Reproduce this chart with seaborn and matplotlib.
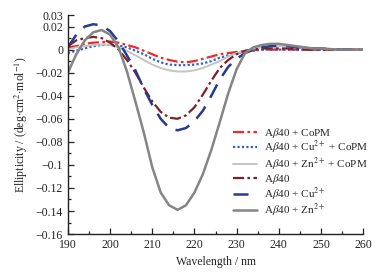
import numpy as np
import pandas as pd
import matplotlib
matplotlib.use("Agg")
import matplotlib.pyplot as plt
import seaborn as sns
from matplotlib.ticker import FixedLocator, FixedFormatter, MultipleLocator

wavelength = list(range(190, 262, 2))

copm = [0.002, 0.003, 0.005, 0.006, 0.0065, 0.007, 0.006, 0.004, 0.002, -0.001,
        -0.004, -0.007, -0.009, -0.0105, -0.011, -0.010, -0.008, -0.006, -0.004, -0.003,
        -0.002, -0.001, -0.0005, 0.0, 0.0, 0.0, 0.0, 0.0, 0.0, 0.0,
        0.0, 0.0, 0.0, 0.0, 0.0, 0.0]
cu_copm = [-0.003, -0.001, 0.001, 0.003, 0.004, 0.004, 0.0035, 0.002, -0.001, -0.004,
           -0.008, -0.011, -0.013, -0.0135, -0.0135, -0.013, -0.012, -0.010, -0.007, -0.005,
           -0.003, -0.002, -0.001, 0.0, 0.0, 0.0, 0.0, 0.0, 0.0, 0.0,
           0.0, 0.0, 0.0, 0.0, 0.0, 0.0]
zn_copm = [0.0, 0.002, 0.003, 0.004, 0.0045, 0.004, 0.002, -0.001, -0.005, -0.009,
           -0.013, -0.016, -0.018, -0.019, -0.019, -0.018, -0.016, -0.013, -0.010, -0.006,
           -0.003, -0.001, 0.001, 0.002, 0.003, 0.003, 0.003, 0.003, 0.002, 0.001,
           0.001, 0.0005, 0.0, 0.0, 0.0, 0.0]
abeta = [0.003, 0.008, 0.010, 0.011, 0.010, 0.006, 0.0, -0.009, -0.020, -0.033,
         -0.045, -0.054, -0.059, -0.060, -0.057, -0.050, -0.039, -0.027, -0.016, -0.009,
         -0.004, -0.001, 0.0, 0.001, 0.001, 0.001, 0.001, 0.0005, 0.0, 0.0,
         0.0, 0.0, 0.0, 0.0, 0.0, 0.0]
cu = [0.002, 0.013, 0.020, 0.022, 0.021, 0.016, 0.007, -0.005, -0.018, -0.034,
      -0.048, -0.060, -0.068, -0.070, -0.068, -0.062, -0.053, -0.040, -0.026, -0.015,
      -0.008, -0.003, 0.0, 0.002, 0.003, 0.003, 0.003, 0.002, 0.002, 0.001,
      0.001, 0.0005, 0.0, 0.0, 0.0, 0.0]
zn = [-0.020, -0.004, 0.008, 0.015, 0.017, 0.013, 0.002, -0.019, -0.045, -0.072,
      -0.102, -0.124, -0.135, -0.139, -0.135, -0.124, -0.108, -0.087, -0.063, -0.038,
      -0.017, -0.003, 0.002, 0.004, 0.005, 0.005, 0.004, 0.003, 0.002, 0.001,
      0.001, 0.0005, 0.0, 0.0, 0.0, 0.0]

labels = [r"A$\beta$40 + CoPM",
          r"A$\beta$40 + Cu$^{2+}$ + CoPM",
          r"A$\beta$40 + Zn$^{2+}$ + CoPM",
          r"A$\beta$40",
          r"A$\beta$40 + Cu$^{2+}$",
          r"A$\beta$40 + Zn$^{2+}$"]
series = [copm, cu_copm, zn_copm, abeta, cu, zn]
colors = ["#ee2a2a", "#2f62c8", "#c4c4c4", "#7b2226", "#283a8c", "#858585"]
styles = [(0, (5, 1.5, 1.2, 1.5)), (0, (1, 1)), "-", (0, (5, 1.5, 1.2, 1.5)),
          (0, (6, 4)), "-"]
widths = [1.6, 1.6, 1.4, 1.6, 1.8, 1.8]

sns.set_style("ticks")
plt.rcParams["font.family"] = ["Liberation Serif", "DejaVu Serif"]
plt.rcParams["mathtext.fontset"] = "stix"

fig = plt.figure(figsize=(3.88, 2.78), dpi=100)
ax = fig.add_axes([0.175, 0.158, 0.761, 0.788])

for vals, lab, c, ls, lw in zip(series, labels, colors, styles, widths):
    sns.lineplot(x=wavelength, y=vals, color=c, linestyle=ls, linewidth=lw,
                 label=lab, ax=ax)

ax.set_xlim(190, 260)
ax.set_ylim(-0.16, 0.03)
ax.xaxis.set_major_locator(MultipleLocator(10))
ax.xaxis.set_minor_locator(MultipleLocator(5))
yt = [0.03, 0.02, 0, -0.02, -0.04, -0.06, -0.08, -0.1, -0.12, -0.14, -0.16]
ylab = ["0.03", "0.02", "0", "\u22120.02", "\u22120.04", "\u22120.06", "\u22120.08",
        "\u22120.1", "\u22120.12", "\u22120.14", "\u22120.16"]
ax.yaxis.set_major_locator(FixedLocator(yt))
ax.yaxis.set_major_formatter(FixedFormatter(ylab))
ax.yaxis.set_minor_locator(FixedLocator([0.01, -0.01, -0.03, -0.05, -0.07, -0.09,
                                         -0.11, -0.13, -0.15]))
ax.tick_params(which="both", direction="in", labelsize=8.5, width=0.9, colors="#222222")
ax.tick_params(which="major", length=4)
ax.tick_params(which="minor", length=2.5)
sns.despine(ax=ax)
for s in ["left", "bottom"]:
    ax.spines[s].set_linewidth(1.0)
    ax.spines[s].set_color("#222222")

ax.set_xlabel("Wavelength / nm", fontsize=8.5)
ax.set_ylabel(r"Ellipticity / (deg$\cdot$cm$^2$$\cdot$mol$^{-1}$)", fontsize=8.5)

ax.legend(loc="upper left", bbox_to_anchor=(0.585, 1 - 120 / 278),
          bbox_transform=fig.transFigure, frameon=False, fontsize=8,
          handlelength=2.2, handletextpad=0.6, labelspacing=-0.05, borderpad=0)

fig.savefig("out.png", dpi=100)
